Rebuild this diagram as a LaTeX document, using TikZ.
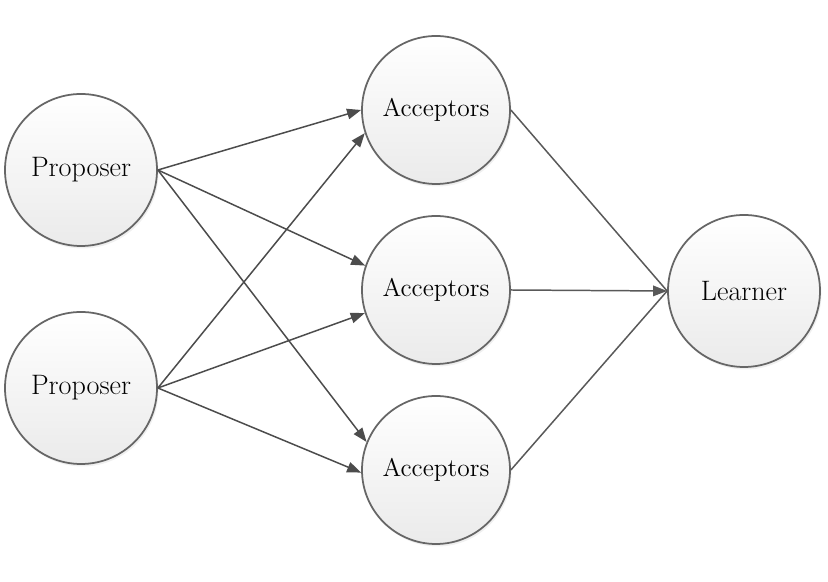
\documentclass[tikz,border=0pt]{standalone}
\usetikzlibrary{arrows.meta,shadows}
\begin{document}
\begin{tikzpicture}
\useasboundingbox (0,0) rectangle (16.56,11.64);
\tikzstyle{every node}=[circle,draw=black!60,line width=1pt,top color=white,bottom color=black!8,
  drop shadow={opacity=0.12,shadow xshift=0.03cm,shadow yshift=-0.05cm},
  minimum size=2.96cm,font=\fontsize{14.5}{17}\selectfont]
\tikzstyle{big}=[minimum size=3.04cm,font=\fontsize{16}{19}\selectfont]
\tikzstyle{link}=[draw=black!65,line width=0.85pt]
\tikzstyle{tip}=[-{Triangle[length=8pt,width=6pt]}]
\node[big] (p1) at (1.62,8.24) {Proposer};
\node[big] (p2) at (1.62,3.88) {Proposer};
\foreach \y [count=\i] in {9.44,5.84,2.24}
 \node (a\i) at (8.72,\y) {Acceptors};
\node[big] (l) at (14.88,5.82) {Learner};
% proposers to acceptors
\foreach \i/\ang in {1/180,2/161,3/158}
 \draw[link,tip,black!70] (p1.east) -- (a\i.\ang);
\foreach \i/\ang in {1/198,2/198,3/182}
 \draw[link,tip,black!70] (p2.east) -- (a\i.\ang);
% acceptors to learner
\foreach \i in {1,3}
 \draw[link] (a\i.east) -- (l.west);
\draw[link,tip] (a2.east) -- (l.west);
\end{tikzpicture}
\end{document}
